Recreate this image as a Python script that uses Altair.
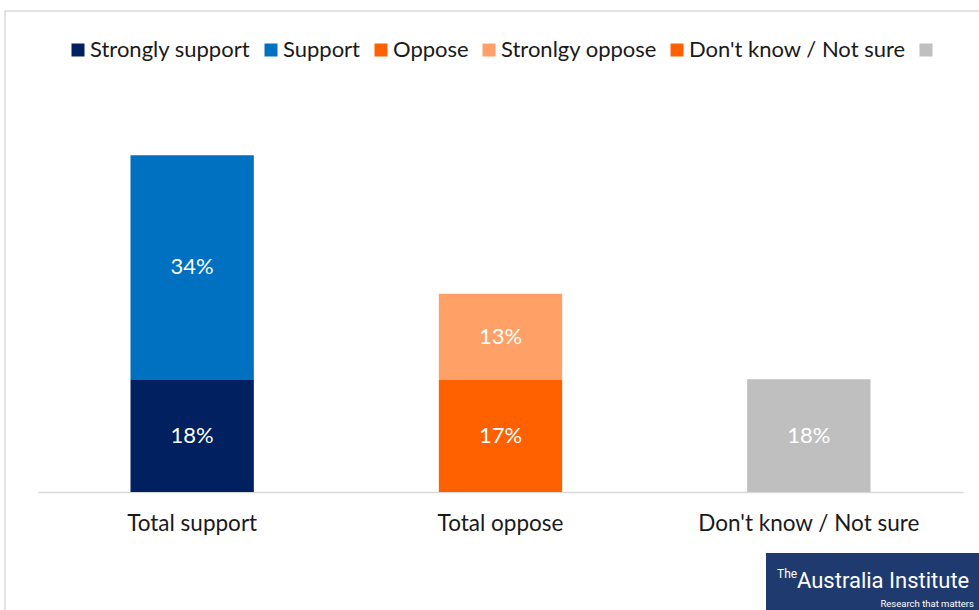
import altair as alt
import pandas as pd

categories = ["Total support", "Total support", "Total oppose", "Total oppose", "Don't know / Not sure"]
series = ["Strongly support", "Support", "Oppose", "Stronlgy oppose", " "]
values = [17.4, 34.6, 17.3, 13.3, 17.4]
labels = ["18%", "34%", "17%", "13%", "18%"]
stack_order = [1, 2, 1, 2, 1]

cat_order = ["Total support", "Total oppose", "Don't know / Not sure"]
legend_domain = ["Strongly support", "Support", "Oppose", "Stronlgy oppose", "Don't know / Not sure", " "]
legend_colors = ["#002060", "#0070C0", "#FF6000", "#FFA066", "#FF6000", "#BFBFBF"]

df = pd.DataFrame({"cat": categories, "series": series, "value": values,
                   "label": labels, "ord": stack_order})

FONT = "Lato"
W, H = 925, 432

base = alt.Chart(df).transform_stack(
    stack="value", groupby=["cat"], as_=["y0", "y1"],
    sort=[alt.SortField("ord", order="ascending")]
).transform_calculate(mid="(datum.y0 + datum.y1) / 2")

xenc = alt.X("cat:N", sort=cat_order, title=None,
             scale=alt.Scale(paddingInner=0.6, paddingOuter=0.3),
             axis=alt.Axis(labelAngle=0, labelFontSize=22.5, labelFont=FONT,
                           labelColor="#1a1a1a", labelPadding=20, ticks=False,
                           labelLimit=400,
                           domainColor="#d9d9d9", domainWidth=1.5, grid=False))
yscale = alt.Scale(domain=[0, 66.7])

bars = base.mark_bar().encode(
    x=xenc,
    y=alt.Y("y0:Q", scale=yscale, axis=None),
    y2="y1:Q",
    color=alt.Color("series:N", scale=alt.Scale(domain=legend_domain, range=legend_colors),
                    legend=alt.Legend(title=None, orient="none", direction="horizontal",
                                      legendX=29, legendY=-21,
                                      symbolType="square", symbolSize=169,
                                      symbolStrokeWidth=0, labelFontSize=22,
                                      labelFont=FONT, labelColor="#1a1a1a",
                                      columnPadding=9, labelOffset=1,
                                      columns=6, labelLimit=400)),
)

text = base.mark_text(color="white", fontSize=22, font=FONT).encode(
    x=alt.X("cat:N", sort=cat_order),
    y=alt.Y("mid:Q", scale=yscale),
    text="label:N",
)

one = df.head(1)
frame_top = alt.Chart(one).mark_rule(color="#d9d9d9", strokeWidth=1.5).encode(
    x=alt.value(-33), x2=alt.value(960), y=alt.value(-49))
frame_left = alt.Chart(one).mark_rule(color="#d9d9d9", strokeWidth=1.5).encode(
    x=alt.value(-33), y=alt.value(-49), y2=alt.value(560))

logo_box = alt.Chart(one).mark_rect(color="#1F3A6E").encode(
    x=alt.value(728), x2=alt.value(960), y=alt.value(493), y2=alt.value(560))
logo_the = alt.Chart(one).mark_text(color="white", fontSize=12, font="Roboto",
                                    align="left", baseline="alphabetic").encode(
    x=alt.value(739), y=alt.value(518), text=alt.value("The"))
logo_main = alt.Chart(one).mark_text(color="white", fontSize=22, font="Roboto",
                                     align="left", baseline="alphabetic").encode(
    x=alt.value(759), y=alt.value(528), text=alt.value("Australia Institute"))
logo_sub = alt.Chart(one).mark_text(color="white", fontSize=9.5, font="Roboto",
                                    align="right", baseline="alphabetic").encode(
    x=alt.value(936), y=alt.value(547), text=alt.value("Research that matters"))

chart = alt.layer(frame_top, frame_left, bars, text, logo_box, logo_the, logo_main, logo_sub).properties(
    width=W, height=H,
    padding={"left": 38, "top": 60, "right": 16, "bottom": 118},
    autosize=alt.AutoSizeParams(type="none"),
    background="white",
).configure_view(stroke=None)

chart.save("out.html", embed_options={"renderer": "svg", "actions": False})
